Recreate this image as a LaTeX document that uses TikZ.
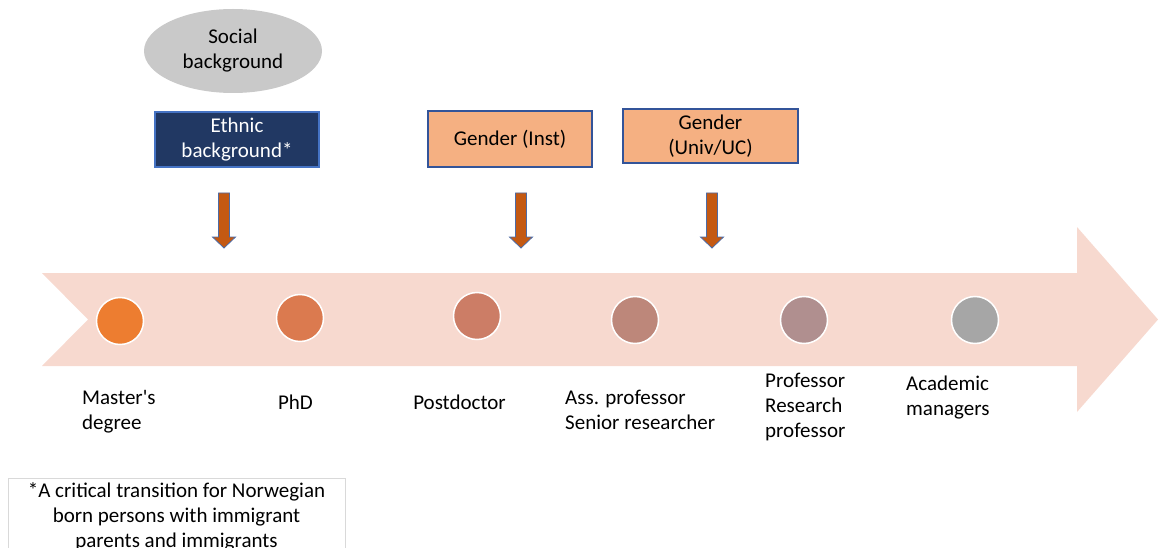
\documentclass[tikz,border=0pt]{standalone}
\usepackage{fontspec}
\setmainfont{Carlito}
\usepackage{tikz}
\usetikzlibrary{shapes.geometric}
\definecolor{bandpink}{rgb}{0.97,0.85,0.81}
\definecolor{socgray}{rgb}{0.79,0.79,0.79}
\definecolor{navy}{rgb}{0.13,0.22,0.39}
\definecolor{lightblue}{rgb}{0.27,0.45,0.77}
\definecolor{boxblue}{rgb}{0.2,0.33,0.6}
\definecolor{peach}{rgb}{0.96,0.69,0.51}
\definecolor{rust}{rgb}{0.77,0.35,0.07}
\definecolor{arrowblue}{rgb}{0.3,0.42,0.65}
\definecolor{stepa}{rgb}{0.93,0.49,0.19}
\definecolor{stepb}{rgb}{0.86,0.48,0.31}
\definecolor{stepc}{rgb}{0.80,0.49,0.40}
\definecolor{stepd}{rgb}{0.74,0.53,0.48}
\definecolor{stepe}{rgb}{0.69,0.56,0.56}
\definecolor{stepf}{rgb}{0.65,0.65,0.65}
\definecolor{notegray}{rgb}{0.85,0.85,0.85}

\begin{document}
\begin{tikzpicture}[line cap=round,line join=miter,x=1pt,y=1pt,
  font=\fontsize{21}{25}\selectfont,
  factor/.style={rectangle,draw=boxblue,line width=1.2pt,fill=peach,inner sep=0pt,align=center},
  stage/.style={circle,draw=white,line width=1.5pt,minimum size=47pt,inner sep=0pt},
  level/.style={align=left,anchor=west,inner sep=0pt}]
\useasboundingbox (0,0) rectangle (1158,547);
\clip (0,0) rectangle (1158,547);
% career path band
\fill[color=bandpink] (42,274) -- (1077,274) -- (1077,320) -- (1158,227.5) -- (1077,135) -- (1077,181) -- (42,181) -- (88,227.5) -- cycle;
% factors above the path
\node[ellipse,fill=socgray,minimum width=178pt,minimum height=84pt,inner sep=0pt,align=center] (social) at (233,496) {Social\\background};
\node[factor,draw=lightblue,fill=navy,text=white,minimum width=164pt,minimum height=55pt] (ethnic) at (237,407.5) {Ethnic\\background*};
\node[factor,minimum width=164pt,minimum height=56pt] (inst) at (510,408) {Gender (Inst)};
\node[factor,minimum width=175pt,minimum height=54pt] (univ) at (710.5,411) {Gender\\(Univ/UC)};
% down arrows
\foreach \x in {224,521,712}
\draw[color=arrowblue,fill=rust,line width=0.8pt] (\x-5.5,354) -- (\x+5.5,354) -- (\x+5.5,310) -- (\x+11.5,310) -- (\x,299) -- (\x-11.5,310) -- (\x-5.5,310) -- cycle;
% career steps
\foreach \x/\y/\c/\n in {120/226/stepa/master,300/229/stepb/phd,477/231/stepc/postdoc,635/227/stepd/assoc,804/227/stepe/prof,975/227/stepf/manager}
\node[stage,fill=\c] (\n) at (\x,\y) {};
\node[level] (lmaster) at (82,135.5) {Master\textquotesingle s\\degree};
\node (lphd) at (295.5,145) {PhD};
\node (lpostdoc) at (459.5,145) {Postdoctor};
\node[level] (lassoc) at (565,137) {Ass. professor\\Senior researcher};
\node[level] (lprof) at (765,140) {Professor\\Research\\professor};
\node[level] (lmanager) at (906,149) {Academic\\managers};
% footnote
\draw[color=notegray,line width=1pt] (8,-10) rectangle (345,69);
\node[align=center,inner sep=0pt] (note) at (176.5,30) {*A critical transition for Norwegian\\born persons with immigrant\\parents and immigrants};
\end{tikzpicture}
\end{document}
